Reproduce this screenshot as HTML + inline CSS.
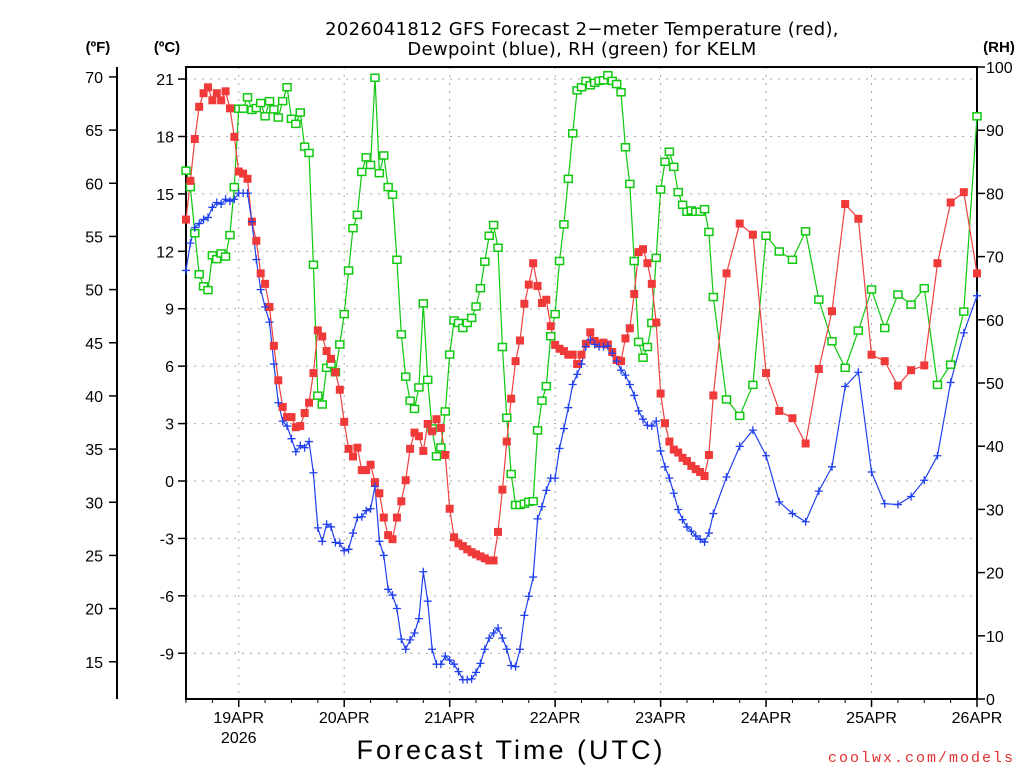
<!DOCTYPE html>
<html><head><meta charset="utf-8"><style>
body{margin:0;background:#fff;}
svg{display:block;font-family:"Liberation Sans",sans-serif;}
</style></head><body>
<svg id="chart" width="1024" height="768" viewBox="0 0 1024 768" xmlns="http://www.w3.org/2000/svg">
<g id="grid"></g>
<g id="axes"></g>
<g id="series"></g>
<text x="582" y="35" font-size="18" text-anchor="middle" font-family="DejaVu Sans, sans-serif" letter-spacing="0.3">2026041812 GFS Forecast 2−meter Temperature (red),</text>
<text x="582" y="55" font-size="18" text-anchor="middle" font-family="DejaVu Sans, sans-serif" letter-spacing="0.3">Dewpoint (blue), RH (green) for KELM</text>
<text x="98" y="52" font-size="15" font-weight="bold" text-anchor="middle">(ºF)</text>
<text x="167" y="52" font-size="15" font-weight="bold" text-anchor="middle">(ºC)</text>
<text x="999" y="52" font-size="15" font-weight="bold" text-anchor="middle">(RH)</text>
<text x="511" y="759" font-size="27" text-anchor="middle" letter-spacing="3">Forecast Time (UTC)</text>
<text x="1015" y="762" font-size="15" fill="#e03030" text-anchor="end" letter-spacing="2" font-family="Liberation Mono, monospace">coolwx.com/models</text>
</svg>
<script>
const tempC = [13.66,15.68,17.87,19.55,20.26,20.57,19.89,20.26,19.89,20.36,19.47,17.98,16.17,16.06,15.79,13.55,12.55,10.85,10.30,9.09,7.06,5.26,3.87,3.34,3.34,2.81,2.87,3.55,4.09,5.64,7.87,7.55,6.79,6.38,5.68,4.77,3.09,1.68,1.28,1.74,0.57,0.57,0.85,-0.06,-0.64,-1.91,-2.83,-3.04,-1.91,-1.06,0.04,1.68,2.53,2.34,1.57,2.98,2.60,3.23,2.77,1.36,-1.45,-2.94,-3.26,
-3.40,-3.57,-3.72,-3.83,-3.94,-4.04,-4.15,-4.15,-2.66,-0.45,2.06,4.30,6.26,7.34,9.26,10.26,11.38,10.19,9.30,9.47,8.09,7.11,6.91,6.79,6.60,6.60,6.11,6.60,7.17,7.77,7.32,7.17,7.23,7.13,6.74,6.32,6.26,7.45,7.98,9.77,11.96,12.11,11.38,10.30,8.28,4.57,3.02,2.06,1.64,1.49,1.21,1.04,0.79,0.62,0.47,0.26,1.36,4.47,
10.85,13.45,12.87,5.64,3.66,3.28,1.96,5.85,8.87,14.47,13.70,6.60,6.26,4.98,5.79,6.04,11.38,14.55,15.09,10.85];
const dewC = [11.0,12.43,13.23,13.45,13.66,13.77,14.30,14.55,14.47,14.72,14.62,14.72,15.04,15.04,15.04,13.55,11.57,10.0,9.09,8.30,6.11,4.09,3.13,2.87,2.21,1.53,1.85,1.74,2.06,0.43,-2.45,-3.15,-2.26,-2.40,-3.21,-3.26,-3.64,-3.57,-2.72,-1.91,-1.87,-1.55,-1.45,-0.28,-3.15,-3.89,-5.66,-5.96,-6.66,-8.26,-8.79,-8.30,-7.94,-7.19,-4.74,-6.28,-8.79,-9.57,-9.57,-9.15,-9.36,-9.57,-9.96,
-10.38,-10.38,-10.34,-10.0,-9.53,-8.79,-8.21,-7.94,-7.68,-8.21,-8.79,-9.64,-9.70,-8.79,-7.02,-6.02,-5.02,-1.98,-1.34,-0.49,0.15,0.15,1.70,2.74,3.83,5.04,5.57,6.11,7.02,7.38,7.13,7.02,7.02,7.06,6.68,6.26,5.79,5.53,5.04,4.47,3.66,3.23,2.91,2.87,3.13,1.57,0.74,0.15,-0.64,-1.49,-2.02,-2.40,-2.62,-2.87,-3.04,-3.19,-2.72,-1.70,
0.21,1.81,2.66,1.32,-1.09,-1.70,-2.13,-0.53,0.74,4.94,5.68,0.47,-1.19,-1.23,-0.81,0.04,1.32,5.15,7.74,9.68];
const rh = [83.6,81.0,73.7,67.2,65.3,64.7,70.2,69.6,70.5,70.0,73.4,81.0,93.4,93.4,95.2,93.2,93.5,94.3,92.2,94.6,93.3,92.0,94.6,96.8,91.8,91.0,92.8,87.4,86.4,68.7,48.0,46.6,52.4,53.0,51.7,56.1,60.9,67.8,74.5,76.6,83.4,85.7,84.5,98.3,83.2,86.0,81.0,79.8,69.5,57.7,51.0,47.2,45.9,49.3,62.6,50.5,42.8,38.4,39.8,45.5,54.5,59.9,59.5,
58.7,59.5,60.3,62.1,65.0,69.2,73.3,75.0,71.4,55.7,44.5,35.6,30.7,30.7,30.9,31.2,31.3,42.5,47.2,49.5,57.4,60.9,69.3,75.1,82.3,89.5,96.3,96.8,97.8,97.1,97.5,97.8,97.9,98.7,97.8,97.3,96.0,87.3,81.5,69.3,56.5,54.0,55.7,59.5,69.8,80.6,85.0,86.6,84.2,80.2,78.2,77.1,77.3,77.1,77.1,77.5,73.9,63.6,
47.4,44.8,49.7,73.3,70.8,69.5,74.0,63.2,56.6,52.4,58.3,64.8,58.7,64.0,62.4,65.0,49.7,52.9,61.3,92.2];
const dayLabels = ["19APR","20APR","21APR","22APR","23APR","24APR","25APR","26APR"];
const cTicks = [-9,-6,-3,0,3,6,9,12,15,18,21];
const fTicks = [15,20,25,30,35,40,45,50,55,60,65,70];
const rhTicks = [0,10,20,30,40,50,60,70,80,90,100];
const hours = [];
for (let h = 0; h <= 120; h++) hours.push(h);
for (let h = 123; h <= 180; h += 3) hours.push(h);

const NS = "http://www.w3.org/2000/svg";
const L = 186, R = 977, T = 67, B = 699;
const X = h => L + (R - L) * h / 180;
const YC = c => 481 - c * 19.14;
const YR = r => B - (B - T) * r / 100;
const YF = f => YC((f - 32) * 5 / 9);
function mk(tag, attrs, parent) {
  const e = document.createElementNS(NS, tag);
  for (const k in attrs) e.setAttribute(k, attrs[k]);
  parent.appendChild(e);
  return e;
}
const grid = document.getElementById('grid');
const axes = document.getElementById('axes');
const series = document.getElementById('series');

cTicks.forEach(c => {
  const y = YC(c);
  const g = mk('line', {x1: L, x2: R, y1: y, y2: y, stroke: '#aaa', 'stroke-width': 1, 'stroke-dasharray': '2,6'}, grid);
  
  
  const t = mk('line', {x1: L - 8, x2: L, y1: y, y2: y, stroke: '#000', 'stroke-width': 1.5}, axes);
  
  
  const tx = mk('text', {x: 174, y: y + 6, 'font-size': 16, 'text-anchor': 'end'}, axes);
  tx.textContent = c;
  
  
});
fTicks.forEach(f => {
  const y = YF(f);
  const t = mk('line', {x1: 109, x2: 117, y1: y, y2: y, stroke: '#000', 'stroke-width': 1.5}, axes);
  
  
  const tx = mk('text', {x: 103, y: y + 6, 'font-size': 16, 'text-anchor': 'end'}, axes);
  tx.textContent = f;
  
  
});
rhTicks.forEach(r => {
  const y = YR(r);
  const t = mk('line', {x1: R, x2: R + 8, y1: y, y2: y, stroke: '#000', 'stroke-width': 1.5}, axes);
  
  
  const tx = mk('text', {x: 986, y: y + 6, 'font-size': 16, 'text-anchor': 'start'}, axes);
  tx.textContent = r;
  
  
});
dayLabels.forEach((d, i) => {
  const x = X(12 + 24 * i);
  const g = mk('line', {x1: x, x2: x, y1: T, y2: B, stroke: '#aaa', 'stroke-width': 1, 'stroke-dasharray': '2,6'}, grid);
  
  
  const t = mk('line', {x1: x, x2: x, y1: B, y2: B + 8, stroke: '#000', 'stroke-width': 1.5}, axes);
  
  
  const tx = mk('text', {x: x, y: 723, 'font-size': 16, 'text-anchor': 'middle'}, axes);
  tx.textContent = d;
  
  
});
for (let h = 0; h <= 180; h += 6) {
  const t = mk('line', {x1: X(h), x2: X(h), y1: B, y2: B + 4, stroke: '#000', 'stroke-width': 1}, axes);
  
  
}
const yr = mk('text', {x: X(12), y: 743, 'font-size': 16, 'text-anchor': 'middle'}, axes);
yr.textContent = '2026';


const fl = mk('line', {x1: 117, x2: 117, y1: T, y2: B, stroke: '#000', 'stroke-width': 2}, axes);


const fr = mk('rect', {x: L, y: T, width: R - L, height: B - T, fill: 'none', stroke: '#000', 'stroke-width': 2}, axes);



function drawLine(vals, yf, color, name) {
  const pts = vals.map((v, i) => X(hours[i]).toFixed(1) + ',' + yf(v).toFixed(1)).join(' ');
  const p = mk('polyline', {points: pts, fill: 'none', stroke: color, 'stroke-width': 1.2}, series);
  
  
}
drawLine(rh, YR, '#10c810', 'rh-line');
drawLine(tempC, YC, '#f04040', 'temperature-line');
drawLine(dewC, YC, '#2040f0', 'dewpoint-line');
rh.forEach((v, i) => {
  const m = mk('rect', {x: X(hours[i]) - 4, y: YR(v) - 3.5, width: 8, height: 7, fill: '#fff', stroke: '#10c810', 'stroke-width': 1.5}, series);
  
  
});
tempC.forEach((v, i) => {
  const m = mk('rect', {x: X(hours[i]) - 4, y: YC(v) - 4, width: 8, height: 8, fill: '#f03a3a'}, series);
  
  
});
dewC.forEach((v, i) => {
  const x = X(hours[i]), y = YC(v);
  const m = mk('path', {d: `M${x-4},${y}H${x+4}M${x},${y-4}V${y+4}`, stroke: '#2040f0', 'stroke-width': 1.3, fill: 'none'}, series);
  
  
});
</script>
</body></html>
